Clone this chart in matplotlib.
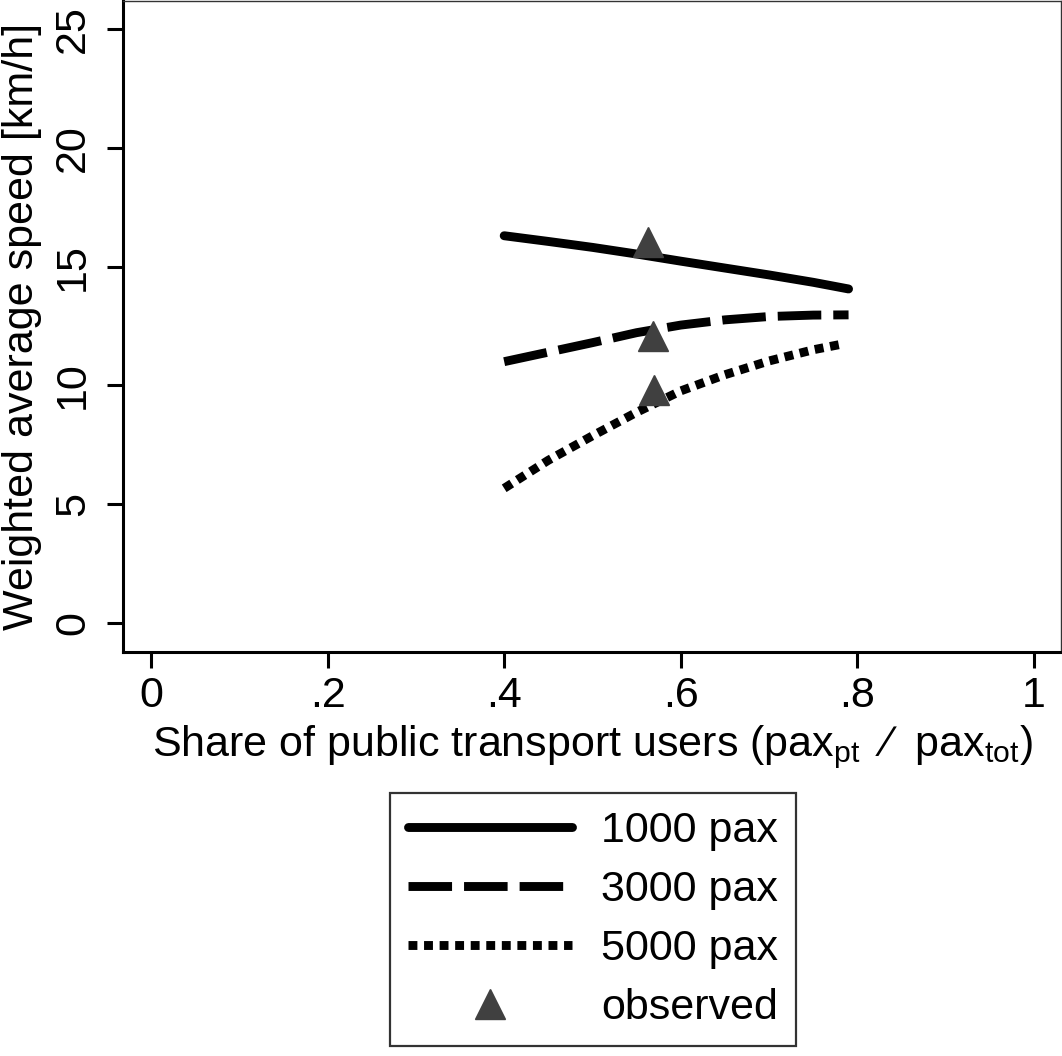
import matplotlib
matplotlib.use("Agg")
import matplotlib.pyplot as plt

plt.rcParams['font.family'] = ['Liberation Sans', 'DejaVu Sans']
plt.rcParams['mathtext.fontset'] = 'custom'
plt.rcParams['mathtext.rm'] = 'Liberation Sans'
plt.rcParams['mathtext.it'] = 'Liberation Sans'

# share of public transport users
share = [0.40, 0.45, 0.50, 0.55, 0.60, 0.65, 0.70, 0.75, 0.79]
speed_1000 = [16.30, 16.06, 15.81, 15.53, 15.23, 14.94, 14.65, 14.34, 14.06]
speed_3000 = [11.00, 11.40, 11.80, 12.22, 12.54, 12.76, 12.90, 12.96, 12.97]
share_5000 = [0.40, 0.45, 0.50, 0.55, 0.60, 0.65, 0.70, 0.75, 0.78]
speed_5000 = [5.67, 6.85, 7.88, 8.87, 9.77, 10.45, 11.03, 11.50, 11.72]

obs_share = [0.563, 0.568, 0.570]
obs_speed = [16.05, 12.09, 9.82]

xticks = [0, 0.2, 0.4, 0.6, 0.8, 1.0]
xticklabels = ['0', '.2', '.4', '.6', '.8', '1']
yticks = [0, 5, 10, 15, 20, 25]

fig = plt.figure(figsize=(10.62, 10.56), dpi=100)
ax = fig.add_axes([123/1062, 1 - 652/1056, (1061 - 123)/1062, (652 - 1)/1056])

lw = 6.4
l1, = ax.plot(share, speed_1000, color='black', lw=lw, solid_capstyle='round')
l2, = ax.plot(share, speed_3000, color='black', lw=lw, dashes=(4.9, 1.35), dash_capstyle='butt')
l3, = ax.plot(share_5000, speed_5000, color='black', lw=lw, dashes=(1, 0.75), dash_capstyle='butt')
m, = ax.plot(obs_share, obs_speed, ls='none', marker='^', ms=21, color='#404040', mec='#404040')

ax.set_xlim(-0.0317, 1.0306)
ax.set_ylim(-1.22, 26.18)
ax.set_xticks(xticks)
ax.set_xticklabels(xticklabels)
ax.set_yticks(yticks)

for s in ['left', 'bottom']:
    ax.spines[s].set_linewidth(2.2)
for s in ['top', 'right']:
    ax.spines[s].set_linewidth(1.0)
    ax.spines[s].set_color('#333333')

ax.tick_params(length=11.5, width=2.2, labelsize=31)
ax.tick_params(axis='x', pad=6)
ax.tick_params(axis='y', pad=10)
for lab in ax.get_yticklabels():
    lab.set_rotation(90)
    lab.set_va('center')

ax.set_xlabel('Share of public transport users (pax$_\\mathregular{pt}$  \u2215  pax$_\\mathregular{tot}$)',
              fontsize=31, labelpad=5)
ax.set_ylabel('Weighted average speed [km/h]', fontsize=31, labelpad=8)

handles = [l1, l2, l3, m]
labels = ['1000 pax', '3000 pax', '5000 pax', 'observed']
leg = fig.legend(handles, labels, loc='upper center', bbox_to_anchor=(593/1062, 1 - 793/1056),
                 fontsize=31, frameon=True, fancybox=False, handlelength=3.8,
                 handletextpad=0.68, labelspacing=0.44, borderpad=0.42, borderaxespad=0)
leg.get_frame().set_edgecolor('black')
leg.get_frame().set_linewidth(1.6)

fig.savefig('out.png', dpi=100)
